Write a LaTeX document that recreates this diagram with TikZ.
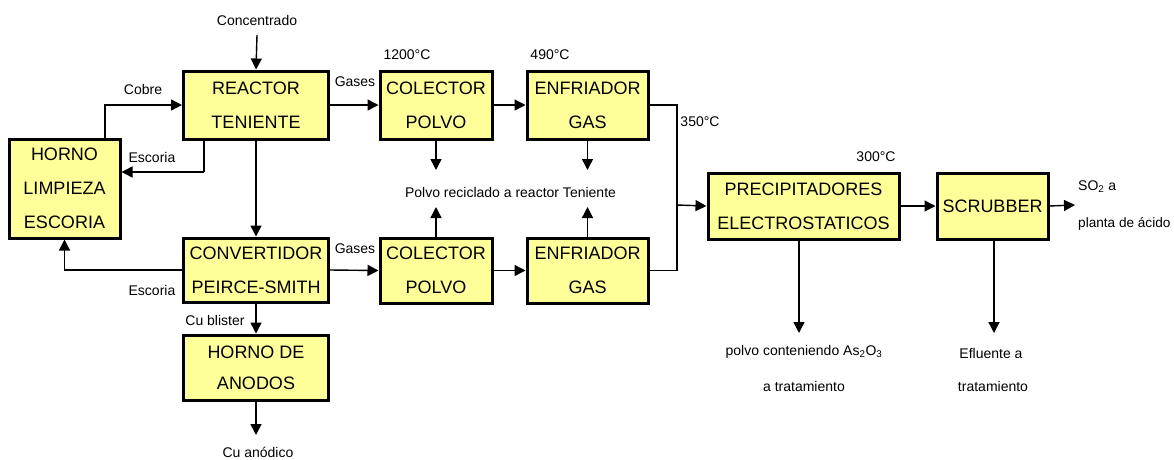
\documentclass[tikz,border=0pt]{standalone}
\usepackage{fontspec}
\setmainfont{Liberation Sans}
\usetikzlibrary{arrows.meta}
\begin{document}
\begin{tikzpicture}[x=1pt,y=-1pt,
  box/.style={draw=black,line width=3pt,fill={rgb,255:red,255;green,255;blue,153},align=center,inner sep=0pt,
    font=\fontsize{18}{34}\selectfont},
  lbl/.style={font=\fontsize{14}{16}\selectfont,inner sep=0pt},
  flow/.style={line width=1.4pt,-{Triangle[length=11pt,width=11pt]}},
  plain/.style={line width=1.4pt}]
\useasboundingbox (0,0) rectangle (1174,459);
% boxes
\node[box,minimum width=145pt,minimum height=68pt] (rt) at (256,105) {REACTOR\\TENIENTE};
\node[box,minimum width=111pt,minimum height=99pt] (hl) at (64.5,188.5) {HORNO\\LIMPIEZA\\ESCORIA};
\node[box,minimum width=145pt,minimum height=64pt] (cv) at (256,270) {CONVERTIDOR\\PEIRCE-SMITH};
\node[box,minimum width=145pt,minimum height=65pt,font=\fontsize{18}{31}\selectfont] (ha) at (256,367.5) {HORNO DE\\ANODOS};
\node[box,minimum width=112pt,minimum height=68pt] (c1) at (436,105) {COLECTOR\\POLVO};
\node[box,minimum width=121pt,minimum height=68pt] (e1) at (587.5,105) {ENFRIADOR\\GAS};
\node[box,minimum width=112pt,minimum height=65pt] (c2) at (436,270.5) {COLECTOR\\POLVO};
\node[box,minimum width=121pt,minimum height=65pt] (e2) at (587.5,270.5) {ENFRIADOR\\GAS};
\node[box,minimum width=191pt,minimum height=66pt] (pe) at (803.5,206) {PRECIPITADORES\\ELECTROSTATICOS};
\node[box,minimum width=111pt,minimum height=66pt] (sc) at (992.5,206) {SCRUBBER};
% text nodes
\node[lbl] (conc) at (257,20) {Concentrado};
\node[lbl] (cobre) at (143,89) {Cobre};
\node[lbl] (esc1) at (152,157) {Escoria};
\node[lbl] (esc2) at (152,290) {Escoria};
\node[lbl] (gas1) at (355,82) {Gases};
\node[lbl] (gas2) at (355,249) {Gases};
\node[lbl] (cub) at (215,320) {Cu blister};
\node[lbl] (cua) at (258,452) {Cu anódico};
\node[lbl] (t1200) at (407,55) {1200°C};
\node[lbl] (t490) at (550,55) {490°C};
\node[lbl] (t350) at (700,122) {350°C};
\node[lbl] (t300) at (876,157) {300°C};
\node[lbl] (polvo) at (510.5,192) {Polvo reciclado a reactor Teniente};
\node[lbl,anchor=west] (so2) at (1078,187) {SO\textsubscript{2} a};
\node[lbl,anchor=west,font=\fontsize{13.6}{16}\selectfont] (planta) at (1078,224) {planta de ácido};
\node[lbl] (asp) at (804,352) {polvo conteniendo As\textsubscript{2}O\textsubscript{3}};
\node[lbl] (asp2) at (804,386) {a tratamiento};
\node[lbl] (efl) at (991,353) {Efluente a};
\node[lbl] (efl2) at (993,386) {tratamiento};
% coordinates
\coordinate (concst) at (257,35);
\coordinate (j) at (677,205);
\coordinate (ctip1) at (436,170);
\coordinate (etip1) at (587.5,170);
\coordinate (ctip2) at (436,207);
\coordinate (etip2) at (587.5,207);
\coordinate (cuatip) at (256,435);
\coordinate (astip) at (799,333);
\coordinate (efltip) at (994,333);
\coordinate (so2tip) at (1075,205);
\coordinate (cobrest) at (105,139);
\coordinate (escst) at (204,139);
\coordinate (escbend) at (204,172);
% connectors
\draw[flow] (concst) -- (rt.north);
\draw[flow] (cobrest) |- (rt.west);
\draw[plain] (escst) -- (escbend);
\draw[flow] (escbend) -- (escbend -| hl.east);
\draw[flow] (rt.south) -- (cv.north);
\draw[flow] (cv.west) -| (hl.south);
\draw[flow] (rt.east) -- (c1.west);
\draw[flow] (cv.east) -- (c2.west);
\draw[flow] (c1.east) -- (e1.west);
\draw[flow] (c2.east) -- (e2.west);
\draw[flow] (c1.south) -- (ctip1);
\draw[flow] (e1.south) -- (etip1);
\draw[flow] (c2.north) -- (ctip2);
\draw[flow] (e2.north) -- (etip2);
\draw[plain] (e1.east) -| (j);
\draw[plain] (e2.east) -| (j);
\draw[flow] (j) -- (pe.west);
\draw[flow] (pe.east) -- (sc.west);
\draw[flow] (sc.east) -- (so2tip);
\draw[flow] (pe.south -| astip) -- (astip);
\draw[flow] (sc.south -| efltip) -- (efltip);
\draw[flow] (cv.south) -- (ha.north);
\draw[flow] (ha.south) -- (cuatip);
\end{tikzpicture}
\end{document}
